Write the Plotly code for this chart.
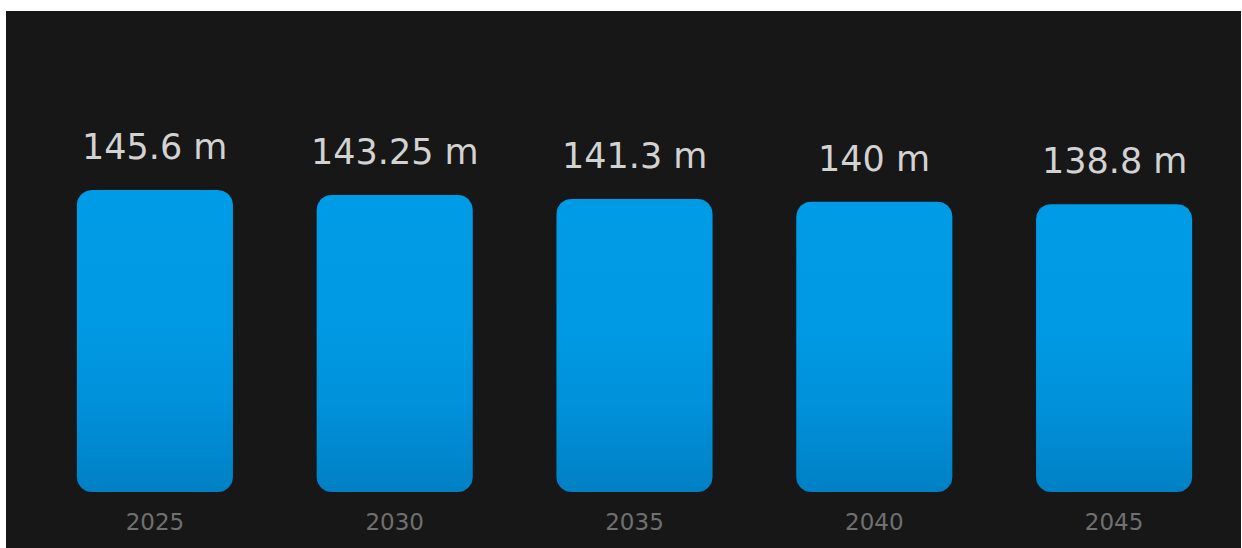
import numpy as np
import plotly.graph_objects as go

# ---- data ----
years = ["2025", "2030", "2035", "2040", "2045"]
values = [145.6, 143.25, 141.3, 140.0, 138.8]
labels = ["145.6 m", "143.25 m", "141.3 m", "140 m", "138.8 m"]

# ---- layout geometry ----
W, H = 1242, 548
ML, MR, MT, MB = 35, 8, 11, 56
plot_w = W - ML - MR
plot_h = H - MT - MB
YMAX = plot_h / 2.074
HALF = 0.3255          # half bar width in category units
R_PX = 15              # corner radius in pixels

px_per_x = plot_w / len(years)
px_per_y = plot_h / YMAX
rx = R_PX / px_per_x
ry = R_PX / px_per_y


def rounded_bar(xc, top):
    x0, x1 = xc - HALF, xc + HALF
    y0, y1 = 0.0, top
    t = np.linspace(0, np.pi / 2, 12)
    xs, ys = [], []
    for a in t:
        xs.append(x1 - rx + rx * np.sin(a)); ys.append(y0 + ry - ry * np.cos(a))
    for a in t:
        xs.append(x1 - rx + rx * np.cos(a)); ys.append(y1 - ry + ry * np.sin(a))
    for a in t:
        xs.append(x0 + rx - rx * np.sin(a)); ys.append(y1 - ry + ry * np.cos(a))
    for a in t:
        xs.append(x0 + rx - rx * np.cos(a)); ys.append(y0 + ry - ry * np.sin(a))
    xs.append(xs[0]); ys.append(ys[0])
    return xs, ys


fig = go.Figure()

for i, v in enumerate(values):
    xs, ys = rounded_bar(i, v)
    fig.add_trace(go.Scatter(
        x=xs, y=ys, mode="lines", fill="toself",
        line=dict(width=0, color="rgba(0,0,0,0)"),
        fillgradient=dict(
            type="vertical",
            colorscale=[[0, "#0080c4"], [0.3, "#0091da"], [0.55, "#0099e3"], [1, "#009be6"]],
        ),
        hoverinfo="skip", showlegend=False,
    ))

for i, (v, lab) in enumerate(zip(values, labels)):
    fig.add_annotation(
        x=i, y=v, text=lab, showarrow=False, yanchor="bottom", yshift=21,
        font=dict(family="DejaVu Sans", size=35, color="#d2d2d2"),
    )

# dark background panel (image has a thin white frame on top/left)
fig.add_shape(
    type="rect", xref="paper", yref="paper", layer="below",
    x0=(6 - ML) / plot_w, x1=(1241 - ML) / plot_w,
    y0=-(MB + 10) / plot_h, y1=(H - MB - 11) / plot_h,
    fillcolor="#171717", line=dict(width=0),
)

fig.update_layout(
    width=W, height=H,
    margin=dict(l=ML, r=MR, t=MT, b=MB, pad=0),
    paper_bgcolor="#ffffff",
    plot_bgcolor="rgba(0,0,0,0)",
    showlegend=False,
    xaxis=dict(
        range=[-0.5, len(years) - 0.5],
        tickmode="array", tickvals=list(range(len(years))), ticktext=years,
        tickfont=dict(family="DejaVu Sans", size=23, color="#707070"),
        ticks="outside", ticklen=9, tickcolor="rgba(0,0,0,0)",
        showgrid=False, zeroline=False, showline=False, fixedrange=True,
    ),
    yaxis=dict(
        range=[0, YMAX], visible=False, showgrid=False, zeroline=False, fixedrange=True,
    ),
)

fig.write_html("out.html")
